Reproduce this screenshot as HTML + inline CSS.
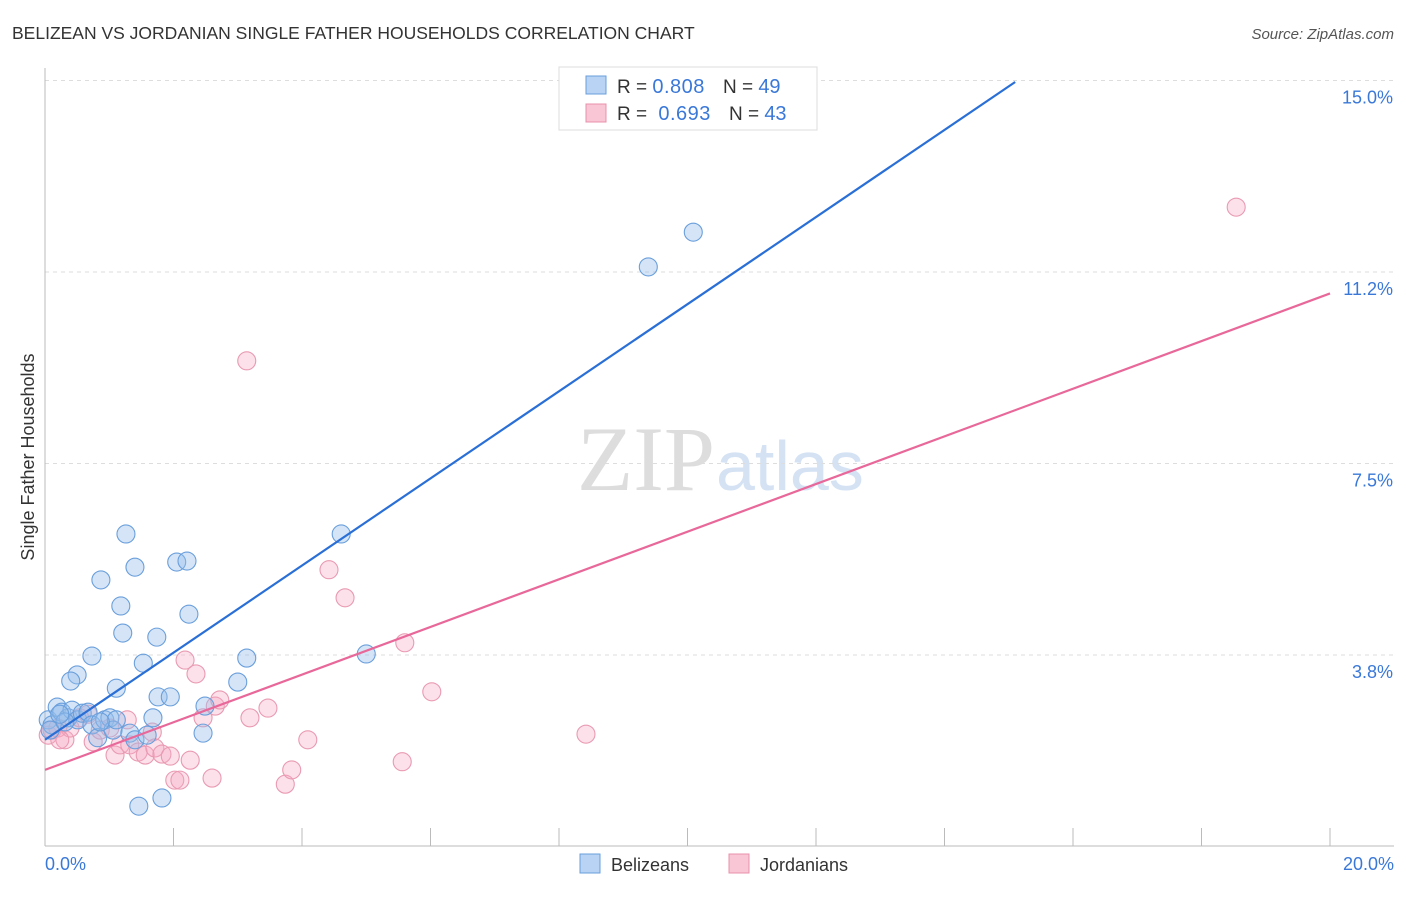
<!DOCTYPE html>
<html><head><meta charset="utf-8"><style>
body{margin:0;background:#fff;font-family:"Liberation Sans",sans-serif}
</style></head><body>
<svg width="1406" height="892" xmlns="http://www.w3.org/2000/svg" font-family="Liberation Sans, sans-serif">
<text x="12" y="39" font-size="17.5" fill="#333">BELIZEAN VS JORDANIAN SINGLE FATHER HOUSEHOLDS CORRELATION CHART</text>
<text x="1394" y="39" font-size="15" fill="#555" font-style="italic" text-anchor="end">Source: ZipAtlas.com</text>
<text x="715" y="490" font-size="92" fill="#ddd" text-anchor="end" font-family="Liberation Serif, serif">ZIP</text>
<text x="716" y="490" font-size="70" fill="#d4e2f4">atlas</text>
<g id="grid"></g>
<line x1="45" y1="68" x2="45" y2="846" stroke="#bbb"/>
<line x1="45" y1="846" x2="1394" y2="846" stroke="#bbb"/>
<g id="xt"></g>
<text x="45" y="870" font-size="18" fill="#3a78d8">0.0%</text>
<text x="1394" y="870" font-size="18" fill="#3a78d8" text-anchor="end">20.0%</text>
<text x="34" y="457" font-size="18" fill="#333" text-anchor="middle" transform="rotate(-90 34 457)">Single Father Households</text>
<g id="pts"></g>
<g id="lines"></g>
<g>
<rect x="559" y="67" width="258" height="63" fill="#fff" stroke="#ddd"/>
<rect x="586" y="76" width="20" height="18" fill="#b8d3f3" stroke="#6a9fdc"/>
<rect x="586" y="104" width="20" height="18" fill="#f9c6d5" stroke="#e890ab"/>
<text x="617" y="93" font-size="19" fill="#333">R = <tspan fill="#3a78d8" font-size="20" letter-spacing="0.5">0.808</tspan><tspan dx="18">N = </tspan><tspan fill="#3a78d8" font-size="20">49</tspan></text>
<text x="617" y="120" font-size="19" fill="#333">R = <tspan fill="#3a78d8" dx="6" font-size="20" letter-spacing="0.5">0.693</tspan><tspan dx="18">N = </tspan><tspan fill="#3a78d8" font-size="20">43</tspan></text>
</g>
<g>
<rect x="580" y="854" width="20" height="19" fill="#b8d3f3" stroke="#6a9fdc"/>
<text x="611" y="871" font-size="18" fill="#333">Belizeans</text>
<rect x="729" y="854" width="20" height="19" fill="#f9c6d5" stroke="#e890ab"/>
<text x="760" y="871" font-size="18" fill="#333">Jordanians</text>
</g>
</svg>
<script>
const yTicks=[3.75,7.5,11.25,15];
const yTickLabels=["3.8%","7.5%","11.2%","15.0%"];
const xTicks=[0,2,4,6,8,10,12,14,16,18,20];
const blueX=[0.05,0.11,0.19,0.26,0.36,0.42,0.51,0.58,0.67,0.73,0.82,0.93,1.01,1.06,1.11,1.32,1.40,1.59,1.68,1.76,1.95,2.46,2.49,3.00,3.14,1.11,1.53,1.74,1.21,1.18,0.87,1.40,2.05,2.21,2.24,1.26,0.73,0.50,0.40,4.61,5.00,9.39,10.09,1.46,1.82,0.08,0.31,0.86,0.23];
const blueY=[2.48,2.38,2.73,2.63,2.52,2.67,2.48,2.61,2.63,2.38,2.13,2.48,2.52,2.28,2.48,2.22,2.09,2.18,2.52,2.93,2.93,2.22,2.75,3.22,3.69,3.10,3.59,4.10,4.18,4.71,5.22,5.47,5.57,5.59,4.55,6.12,3.73,3.36,3.24,6.12,3.77,11.35,12.03,0.79,0.95,2.28,2.44,2.44,2.59];
const pinkX=[0.05,0.11,0.20,0.31,0.39,0.54,0.67,0.75,0.86,1.01,1.09,1.17,1.28,1.32,1.45,1.56,1.67,1.71,1.82,1.95,2.02,2.10,2.26,2.18,2.35,2.46,2.60,2.65,2.72,3.19,3.47,3.74,3.84,4.09,4.42,4.67,5.60,6.02,5.56,8.42,3.14,18.54,0.23];
const pinkY=[2.18,2.28,2.32,2.09,2.32,2.52,2.59,2.05,2.28,2.32,1.79,1.99,2.48,1.99,1.85,1.79,2.24,1.93,1.81,1.77,1.30,1.30,1.69,3.65,3.38,2.52,1.34,2.75,2.87,2.52,2.71,1.22,1.50,2.09,5.42,4.87,3.99,3.03,1.66,2.20,9.51,12.52,2.09];
const blueTrend=[2.09,0.853,0,15.1];
const pinkTrend=[1.50,0.4665,0,20];
const NS="http://www.w3.org/2000/svg";
const sx=v=>45+v/20*1285, sy=v=>846.5-v/3.75*191.5;
function mk(t,a,p){const e=document.createElementNS(NS,t);for(const k in a)e.setAttribute(k,a[k]);document.getElementById(p).appendChild(e);return e;}
yTicks.forEach((t,i)=>{
 const l=mk('line',{x1:45,x2:1394,y1:sy(t),y2:sy(t),stroke:'#ddd','stroke-dasharray':'4 4'},'grid');
 
 
 const tx=mk('text',{x:1393,y:sy(t)+23,'font-size':18,fill:'#3a78d8','text-anchor':'end'},'grid');
 tx.textContent=yTickLabels[i];
 
 
});
xTicks.forEach(t=>{
 const l=mk('line',{x1:sx(t),x2:sx(t),y1:828,y2:846,stroke:'#bbb'},'xt');
 
 
});
function series(X,Y,fill,stroke,name){X.forEach((x,i)=>{
 const c=mk('circle',{cx:sx(x),cy:sy(Y[i]),r:9,fill:fill,stroke:stroke,'stroke-width':1.1},'pts');
 
 
});}
series(pinkX,pinkY,'rgba(245,170,195,0.35)','#e99ab2','jordanian-point');
series(blueX,blueY,'rgba(150,190,235,0.4)','#6a9fdc','belizean-point');
function trend(t,col,name){
 const l=mk('line',{x1:sx(t[2]),y1:sy(t[0]+t[1]*t[2]),x2:sx(t[3]),y2:sy(t[0]+t[1]*t[3]),stroke:col,'stroke-width':2.2},'lines');
 
 
}
trend(blueTrend,'#2a6fd6','belizean-trendline');
trend(pinkTrend,'#e8689a','jordanian-trendline');
</script>
</body></html>
